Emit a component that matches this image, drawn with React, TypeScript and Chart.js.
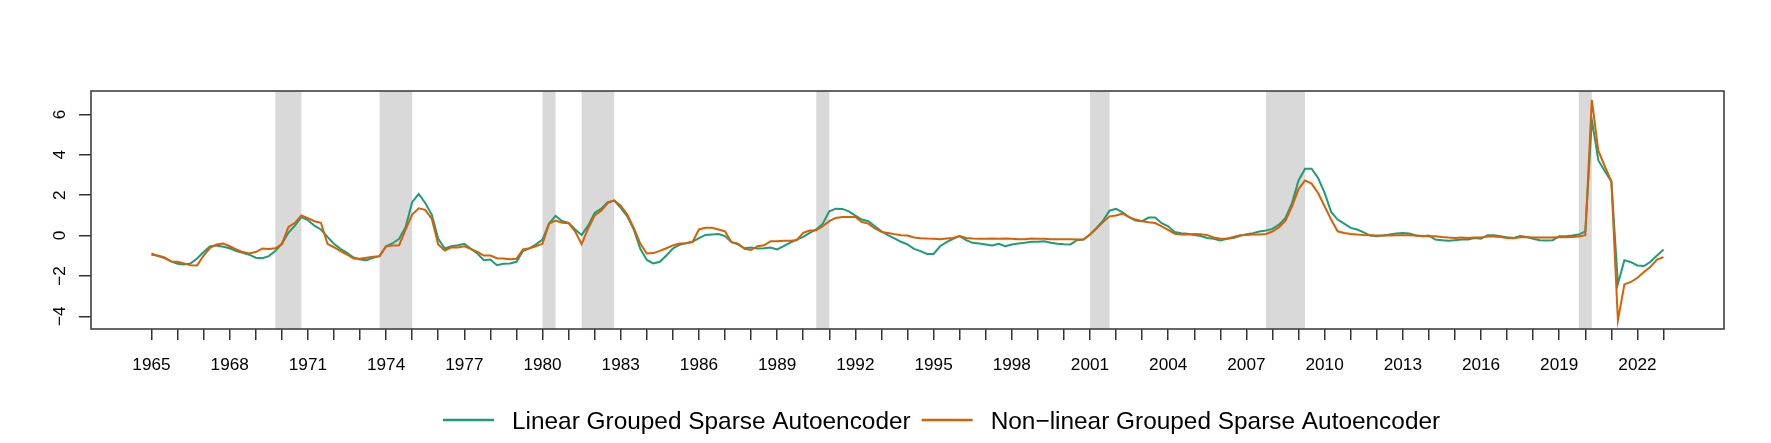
import { useEffect, useRef } from "react";
import { Chart, registerables } from "chart.js";

Chart.register(...registerables);

// Quarterly series starting 1965 Q1 (x = year + (quarter-1)/4)
const startYear = 1965;

const linearGSA = [
  -0.89, -1.02, -1.12, -1.28,
  -1.40, -1.43, -1.38, -1.14,
  -0.82, -0.53, -0.49, -0.56,
  -0.63, -0.77, -0.86, -0.95,
  -1.10, -1.12, -1.02, -0.77,
  -0.40, 0.13, 0.49, 0.91,
  0.76, 0.49, 0.30, -0.07,
  -0.41, -0.66, -0.86, -1.09,
  -1.19, -1.22, -1.10, -1.02,
  -0.53, -0.38, -0.16, 0.43,
  1.65, 2.06, 1.61, 1.04,
  -0.16, -0.64, -0.53, -0.48,
  -0.41, -0.66, -0.89, -1.22,
  -1.19, -1.47, -1.40, -1.38,
  -1.30, -0.77, -0.64, -0.44,
  -0.20, 0.59, 0.97, 0.72,
  0.63, 0.30, 0.03, 0.49,
  1.12, 1.33, 1.65, 1.73,
  1.37, 0.95, 0.30, -0.66,
  -1.21, -1.38, -1.30, -0.99,
  -0.64, -0.46, -0.38, -0.31,
  -0.13, 0.03, 0.05, 0.07,
  -0.03, -0.33, -0.44, -0.63,
  -0.59, -0.64, -0.63, -0.59,
  -0.69, -0.53, -0.35, -0.20,
  -0.07, 0.13, 0.30, 0.59,
  1.20, 1.33, 1.32, 1.20,
  0.99, 0.79, 0.71, 0.46,
  0.21, 0.02, -0.14, -0.31,
  -0.44, -0.66, -0.77, -0.91,
  -0.91, -0.53, -0.33, -0.16,
  -0.03, -0.23, -0.36, -0.40,
  -0.44, -0.49, -0.41, -0.53,
  -0.44, -0.40, -0.36, -0.31,
  -0.31, -0.28, -0.36, -0.41,
  -0.43, -0.44, -0.23, -0.20,
  0.05, 0.38, 0.74, 1.23,
  1.32, 1.15, 0.91, 0.74,
  0.71, 0.89, 0.89, 0.61,
  0.46, 0.17, 0.11, 0.09,
  0.02, -0.02, -0.12, -0.16,
  -0.25, -0.16, -0.12, -0.03,
  0.07, 0.12, 0.20, 0.25,
  0.33, 0.54, 0.87, 1.61,
  2.73, 3.31, 3.31, 2.85,
  2.11, 1.17, 0.79, 0.59,
  0.38, 0.30, 0.16, 0.0,
  -0.03, 0.0, 0.05, 0.10,
  0.13, 0.10, 0.0, -0.03,
  0.0, -0.20, -0.23, -0.26,
  -0.23, -0.20, -0.20, -0.12,
  -0.16, 0.02, 0.02, -0.03,
  -0.08, -0.12, -0.03, -0.07,
  -0.16, -0.23, -0.25, -0.23,
  -0.03, -0.03, 0.0, 0.05,
  0.21, 5.73, 3.72, 3.18,
  2.68, -2.39, -1.22, -1.32,
  -1.48, -1.51, -1.30, -0.99,
  -0.69,
];

const nonlinearGSA = [
  -0.95, -0.99, -1.09, -1.28,
  -1.30, -1.38, -1.47, -1.48,
  -0.99, -0.61, -0.44, -0.40,
  -0.53, -0.69, -0.82, -0.89,
  -0.82, -0.64, -0.67, -0.63,
  -0.43, 0.41, 0.63, 1.00,
  0.86, 0.71, 0.63, -0.41,
  -0.58, -0.77, -0.94, -1.14,
  -1.15, -1.10, -1.05, -1.02,
  -0.53, -0.49, -0.48, 0.30,
  1.04, 1.35, 1.27, 0.84,
  -0.44, -0.74, -0.58, -0.59,
  -0.53, -0.66, -0.81, -0.99,
  -0.99, -1.12, -1.14, -1.17,
  -1.15, -0.69, -0.63, -0.53,
  -0.41, 0.59, 0.74, 0.63,
  0.61, 0.21, -0.43, 0.35,
  0.99, 1.23, 1.61, 1.74,
  1.48, 1.04, 0.38, -0.40,
  -0.89, -0.87, -0.76, -0.63,
  -0.49, -0.40, -0.38, -0.33,
  0.30, 0.38, 0.38, 0.30,
  0.21, -0.33, -0.40, -0.66,
  -0.72, -0.53, -0.48, -0.28,
  -0.28, -0.26, -0.26, -0.23,
  0.13, 0.25, 0.26, 0.46,
  0.71, 0.87, 0.92, 0.92,
  0.92, 0.67, 0.59, 0.35,
  0.18, 0.13, 0.07, 0.02,
  0.0, -0.10, -0.13, -0.15,
  -0.16, -0.18, -0.15, -0.12,
  -0.03, -0.12, -0.15, -0.16,
  -0.16, -0.15, -0.16, -0.15,
  -0.16, -0.18, -0.18, -0.15,
  -0.16, -0.16, -0.18, -0.18,
  -0.18, -0.18, -0.20, -0.20,
  0.05, 0.35, 0.67, 0.95,
  0.99, 1.09, 0.91, 0.79,
  0.71, 0.66, 0.62, 0.45,
  0.28, 0.09, 0.05, 0.05,
  0.07, 0.06, 0.02, -0.10,
  -0.16, -0.16, -0.07, 0.02,
  0.03, 0.05, 0.05, 0.08,
  0.20, 0.41, 0.74, 1.45,
  2.30, 2.73, 2.57, 2.11,
  1.45, 0.79, 0.21, 0.13,
  0.08, 0.05, 0.03, 0.02,
  0.0, 0.0, 0.0, 0.02,
  0.02, 0.02, 0.0, -0.02,
  -0.03, -0.03, -0.07, -0.10,
  -0.12, -0.10, -0.12, -0.10,
  -0.10, -0.05, -0.05, -0.07,
  -0.12, -0.13, -0.08, -0.08,
  -0.10, -0.10, -0.10, -0.10,
  -0.08, -0.08, -0.07, -0.05,
  0.02, 6.72, 4.20, 3.42,
  2.68, -4.20, -2.42, -2.30,
  -2.09, -1.81, -1.55, -1.19,
  -1.07,
];

// Recession bands (shaded)
const recessionStarts = [1969.75, 1973.75, 1980.0, 1981.5, 1990.5, 2001.0, 2007.75, 2019.75];
const recessionEnds = [1970.75, 1975.0, 1980.5, 1982.75, 1991.0, 2001.75, 2009.25, 2020.25];

// Axis ticks
const xTickFirst = 1965;
const xTickLast = 2023;
const xLabelYears = [1965, 1968, 1971, 1974, 1977, 1980, 1983, 1986, 1989, 1992, 1995, 1998, 2001, 2004, 2007, 2010, 2013, 2016, 2019, 2022];
const yTicks = [-4, -2, 0, 2, 4, 6];

const seriesLabels = ["Linear Grouped Sparse Autoencoder", "Non\u2212linear Grouped Sparse Autoencoder"];
const seriesColors = ["#1B9E77", "#D95F02"];

const FONT = '"Liberation Sans", Arial, Helvetica, sans-serif';

function toPoints(values: number[]) {
  return values.map((v, i) => ({ x: startYear + i / 4, y: v }));
}

const decorPlugin = {
  id: "decor",
  beforeDatasetsDraw(chart: any) {
    const { ctx, chartArea: a, scales } = chart;
    const xs = scales.x;
    ctx.save();
    ctx.fillStyle = "#D9D9D9";
    recessionStarts.forEach((s, i) => {
      const x0 = xs.getPixelForValue(s);
      const x1 = xs.getPixelForValue(recessionEnds[i]);
      ctx.fillRect(x0, a.top, x1 - x0, a.bottom - a.top);
    });
    ctx.restore();
  },
  afterDraw(chart: any) {
    const { ctx, chartArea: a, scales } = chart;
    const xs = scales.x;
    const ys = scales.y;
    ctx.save();
    // box
    ctx.strokeStyle = "#404040";
    ctx.lineWidth = 1.6;
    ctx.strokeRect(a.left, a.top, a.right - a.left, a.bottom - a.top);

    // x labels
    ctx.fillStyle = "#000";
    ctx.font = `17.2px ${FONT}`;
    ctx.textAlign = "center";
    ctx.textBaseline = "alphabetic";
    xLabelYears.forEach((yr) => {
      ctx.fillText(String(yr), xs.getPixelForValue(yr), 370);
    });

    // y labels (rotated)
    yTicks.forEach((v) => {
      const py = ys.getPixelForValue(v);
      ctx.save();
      ctx.translate(65.2, py);
      ctx.rotate(-Math.PI / 2);
      ctx.textAlign = "center";
      ctx.fillText(v < 0 ? "\u2212" + Math.abs(v) : String(v), 0, 0);
      ctx.restore();
    });

    // legend
    ctx.font = `24.4px ${FONT}`;
    ctx.textAlign = "left";
    let lx = 443;
    const ly = 420;
    seriesLabels.forEach((lab, i) => {
      ctx.strokeStyle = seriesColors[i];
      ctx.lineWidth = 2.5;
      ctx.beginPath();
      ctx.moveTo(lx, ly);
      ctx.lineTo(lx + 51, ly);
      ctx.stroke();
      ctx.fillStyle = "#000";
      ctx.fillText(lab, lx + 69, 429);
      lx = lx + 69 + ctx.measureText(lab).width + 11;
    });
    ctx.restore();
  },
};

export default function App() {
  const ref = useRef<HTMLCanvasElement | null>(null);
  useEffect(() => {
    document.body.style.margin = "0";
    const canvas = ref.current;
    if (!canvas) return;
    const chart = new Chart(canvas, {
      type: "line",
      data: {
        datasets: [
          {
            label: seriesLabels[0],
            data: toPoints(linearGSA),
            borderColor: seriesColors[0],
            borderWidth: 2,
            pointRadius: 0,
            tension: 0,
            order: 2,
          },
          {
            label: seriesLabels[1],
            data: toPoints(nonlinearGSA),
            borderColor: seriesColors[1],
            borderWidth: 2,
            pointRadius: 0,
            tension: 0,
            order: 1,
          },
        ],
      },
      options: {
        responsive: false,
        maintainAspectRatio: false,
        animation: false,
        parsing: false,
        layout: { padding: { left: 0, right: 47, top: 91, bottom: 0 } },
        plugins: { legend: { display: false }, tooltip: { enabled: false } },
        scales: {
          x: {
            type: "linear",
            min: 1962.68,
            max: 2025.32,
            border: { display: false },
            grid: { drawOnChartArea: false, drawTicks: true, tickLength: 11, color: "#333", lineWidth: 1.5 },
            ticks: { display: false, autoSkip: false },
            afterBuildTicks: (s: any) => {
              const t: any[] = [];
              for (let y = xTickFirst; y <= xTickLast; y++) t.push({ value: y });
              s.ticks = t;
            },
            afterFit: (s: any) => {
              s.height = 114;
            },
          },
          y: {
            type: "linear",
            min: -4.63,
            max: 7.16,
            border: { display: false },
            grid: { drawOnChartArea: false, drawTicks: true, tickLength: 12, color: "#333", lineWidth: 1.5 },
            ticks: { display: false },
            afterBuildTicks: (s: any) => {
              s.ticks = yTicks.map((v) => ({ value: v }));
            },
            afterFit: (s: any) => {
              s.width = 91;
            },
          },
        },
      },
      plugins: [decorPlugin],
    });
    return () => chart.destroy();
  }, []);
  return (
    <div style={{ width: 1771, height: 443 }}>
      <canvas ref={ref} width={1771} height={443} style={{ display: "block", width: 1771, height: 443 }} />
    </div>
  );
}
